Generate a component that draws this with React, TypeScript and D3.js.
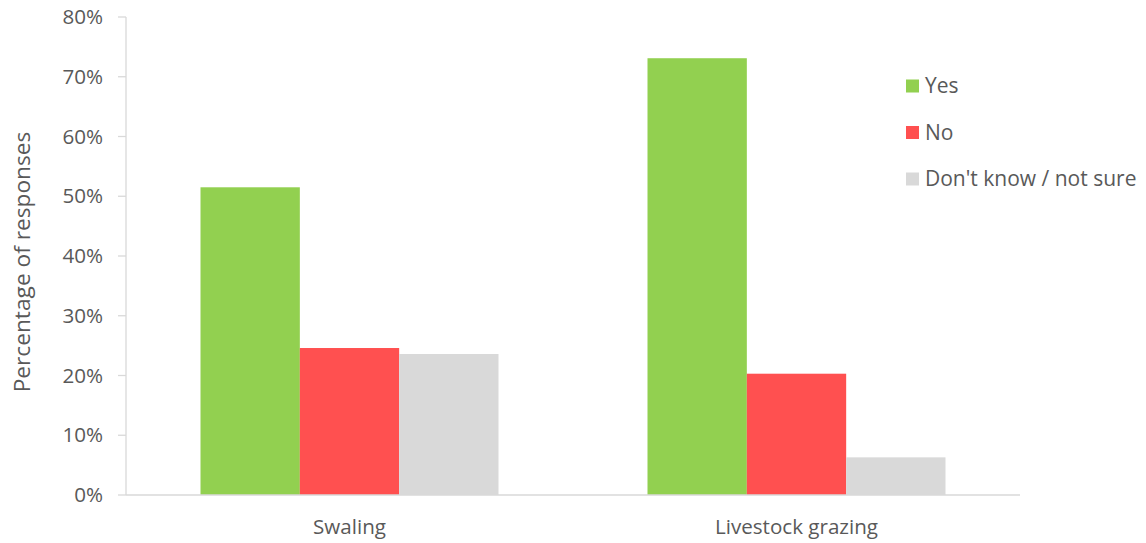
import React from "react";
import * as d3 from "d3";

const categories = ["Swaling", "Livestock grazing"];
const seriesNames = ["Yes", "No", "Don't know / not sure"];
const yesValues = [51.5, 73.1];
const noValues = [24.6, 20.3];
const dontKnowValues = [23.6, 6.3];
const yTicks = [0, 10, 20, 30, 40, 50, 60, 70, 80];
const colors = ["#92d050", "#ff5050", "#d9d9d9"];

const W = 1146;
const H = 543;
const FONT = "'Open Sans', sans-serif";

export default function App() {
  const left = 126, right = 1020, top = 17, bottom = 495;
  const x = d3.scaleBand<string>().domain(categories).range([left, right]).paddingInner(0).paddingOuter(0);
  const bw = x.bandwidth() / 4.5;
  const x1 = d3.scaleBand<string>().domain(seriesNames).range([0, bw * 3]);
  const y = d3.scaleLinear().domain([0, 80]).range([bottom, top]);
  const series = [yesValues, noValues, dontKnowValues];
  const textColor = "#595959";
  const fs = 20.6;

  return (
    <svg width={W} height={H} style={{ position: "absolute", left: 0, top: 0, background: "#fff" }} fontFamily={FONT}>
      {/* y axis */}
      <line x1={left} x2={left} y1={top} y2={bottom} stroke="#d9d9d9" strokeWidth={1.3} />
      {yTicks.map((t) => (
        <g key={t}>
          <line x1={left - 8} x2={left} y1={y(t)} y2={y(t)} stroke="#d9d9d9" strokeWidth={1.3} />
          <text x={103} y={y(t)} dy="0.35em" textAnchor="end" fontSize={fs} fill={textColor}>
            {t}%
          </text>
        </g>
      ))}
      {/* bars */}
      {categories.map((c, ci) => {
        const gx = (x(c) as number) + (x.bandwidth() - bw * 3) / 2;
        return series.map((vals, si) => (
          <rect
            key={c + si}
            x={gx + (x1(seriesNames[si]) as number)}
            y={y(vals[ci])}
            width={x1.bandwidth()}
            height={bottom - y(vals[ci])}
            fill={colors[si]}
          />
        ));
      })}
      {/* x axis */}
      <line x1={left} x2={right} y1={bottom} y2={bottom} stroke="#d9d9d9" strokeWidth={1.3} />
      {categories.map((c) => (
        <text key={c} x={(x(c) as number) + x.bandwidth() / 2} y={527} dy="0.35em" textAnchor="middle" fontSize={fs} fill={textColor}>
          {c}
        </text>
      ))}
      {/* y label */}
      <text transform={`translate(22,262) rotate(-90)`} textAnchor="middle" dy="0.35em" fontSize={22.7} fill={textColor}>
        Percentage of responses
      </text>
      {/* legend */}
      {seriesNames.map((s, i) => {
        const cy = 86 + i * 46.5;
        return (
          <g key={s}>
            <rect x={906} y={cy - 6.5} width={13} height={13} fill={colors[i]} />
            <text x={925} y={cy} dy="0.35em" fontSize={21} fill={textColor}>
              {s}
            </text>
          </g>
        );
      })}
    </svg>
  );
}
